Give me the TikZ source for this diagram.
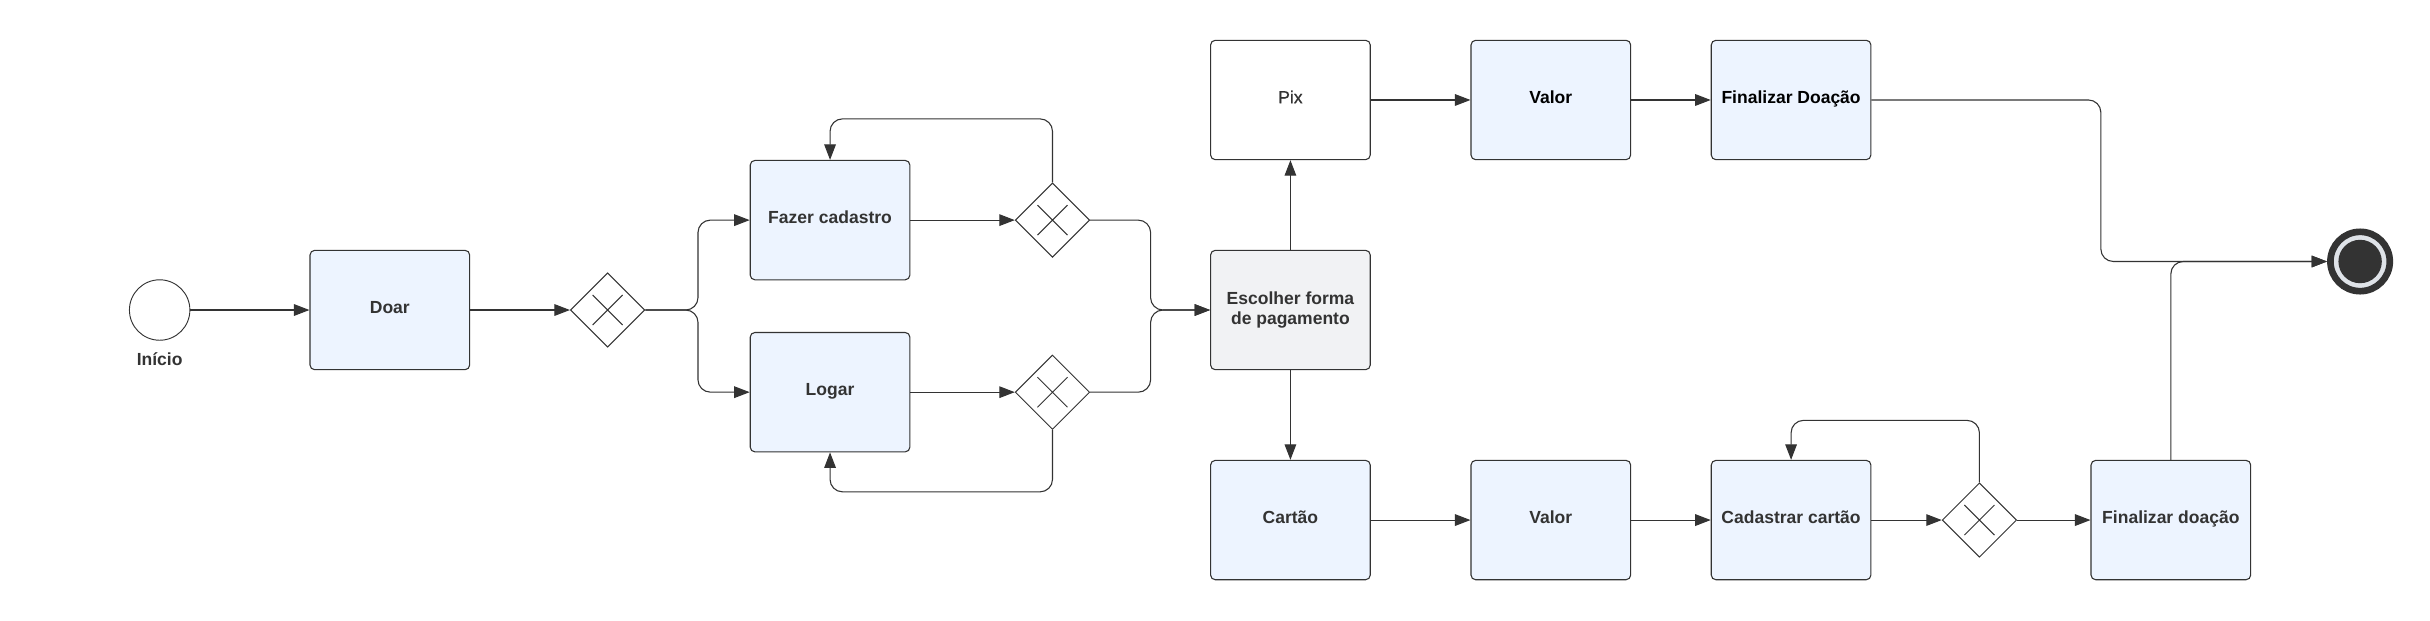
\documentclass[tikz,border=0pt]{standalone}
\usepackage{fontspec}
\setmainfont{Liberation Sans}
\newfontface\medio{Liberation Sans}[FakeBold=0.7]
\usetikzlibrary{arrows.meta,shapes.geometric}
\definecolor{corTarefa}{HTML}{EDF4FF}
\definecolor{corEscolha}{HTML}{F1F2F4}
\definecolor{corLinha}{HTML}{333333}
\definecolor{corAnel}{HTML}{DFE3E8}

\begin{document}
\begin{tikzpicture}[x=1pt,y=-1pt,
		tarefa/.style={draw=corLinha, line width=0.7pt, fill=corTarefa, rounded corners=3pt,
			minimum width=103pt, minimum height=77pt, align=center, text=corLinha,
			text height=8.2pt, text depth=4pt,
			font=\fontsize{11.3}{13.3}\selectfont\bfseries},
		porta/.style={diamond, draw=corLinha, line width=0.6pt, fill=white, inner sep=0pt,
			minimum width=48pt, minimum height=48pt,
			path picture={\draw[corLinha, line width=0.6pt]
				(path picture bounding box.center) +(-9.7,-9.7) -- +(9.7,9.7)
				(path picture bounding box.center) +(-9.7,9.7) -- +(9.7,-9.7);}},
		fluxo/.style={draw=corLinha, line width=0.7pt, rounded corners=8pt,
			-{Triangle[length=10pt,width=7.5pt]}}]
		\useasboundingbox (0,0) rectangle (1567.7,400);
		% inicio
		\node[circle, draw=corLinha, line width=0.6pt, minimum size=39pt, inner sep=0pt] (inicio) at (103,200) {};
		\node[text=corLinha, font=\fontsize{11.3}{13.3}\selectfont\bfseries] (rotuloInicio) at (103,232) {Início};
		\node[tarefa] (doar) at (251.5,200) {Doar};
		\node[porta] (g1) at (392,200) {};
		\node[tarefa] (fazer) at (535.5,142) {Fazer cadastro};
		\node[tarefa] (logar) at (535.5,253) {Logar};
		\node[porta] (g2) at (679,142) {};
		\node[porta] (g3) at (679,253) {};
		\node[tarefa, fill=corEscolha, text height={}, text depth={}] (escolher) at (832.5,200) {Escolher forma\\de pagamento};
		% pix
		\node[tarefa, fill=white, font=\fontsize{11.3}{13.3}\medio] (pix) at (832.5,64.5) {Pix};
		\node[tarefa, text=black] (valorPix) at (1000.5,64.5) {Valor};
		\node[tarefa, text=black] (fimPix) at (1155.5,64.5) {Finalizar Doação};
		% cartao
		\node[tarefa] (cartao) at (832.5,335.5) {Cartão};
		\node[tarefa] (valorCartao) at (1000.5,335.5) {Valor};
		\node[tarefa] (cadastrar) at (1155.5,335.5) {Cadastrar cartão};
		\node[porta] (g4) at (1277,335.5) {};
		\node[tarefa] (fimCartao) at (1400.5,335.5) {Finalizar doação};
		% fim
		\node[circle, draw=corLinha, line width=4.3pt, fill=corAnel, minimum size=38.3pt, inner sep=0pt,
			path picture={\fill[corLinha] (path picture bounding box.center) circle (14pt);}] (fim) at (1522.6,168.7) {};

		\draw[fluxo] (inicio) -- (doar);
		\draw[fluxo] (doar) -- (g1);
		\draw[fluxo] (g1.east) -- ++(34,0) |- (fazer.west);
		\draw[fluxo] (g1.east) -- ++(34,0) |- (logar.west);
		\draw[fluxo] (fazer) -- (g2);
		\draw[fluxo] (logar) -- (g3);
		\draw[fluxo] (g2.north) -- ++(0,-41) -| (fazer.north);
		\draw[fluxo] (g3.south) -- ++(0,40) -| (logar.south);
		\draw[fluxo] (g2.east) -- ++(39,0) |- (escolher.west);
		\draw[fluxo] (g3.east) -- ++(39,0) |- (escolher.west);
		\draw[fluxo] (escolher) -- (pix);
		\draw[fluxo] (escolher) -- (cartao);
		\draw[fluxo] (pix) -- (valorPix);
		\draw[fluxo] (valorPix) -- (fimPix);
		\draw[fluxo] (fimPix.east) -- ++(148,0) |- (fim.west);
		\draw[fluxo] (cartao) -- (valorCartao);
		\draw[fluxo] (valorCartao) -- (cadastrar);
		\draw[fluxo] (cadastrar) -- (g4);
		\draw[fluxo] (g4.north) -- ++(0,-40) -| (cadastrar.north);
		\draw[fluxo] (g4) -- (fimCartao);
		\draw[fluxo] (fimCartao.north) |- (fim.west);
	\end{tikzpicture}
\end{document}
